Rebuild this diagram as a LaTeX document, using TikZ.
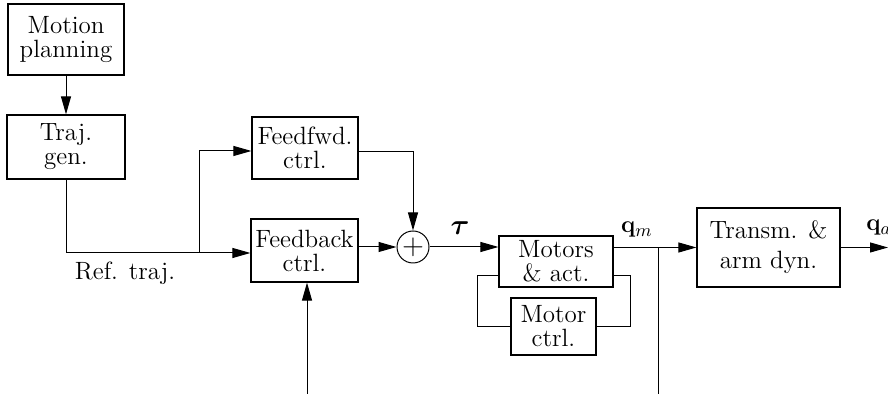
\documentclass[tikz,border=0pt]{standalone}
\usepackage{bm}
\usetikzlibrary{arrows.meta}
\begin{document}
\begin{tikzpicture}[x=0.5pt,y=-0.5pt,
  lbl/.style={font=\fontsize{12.5}{12}\selectfont, align=center, inner sep=0pt},
  box/.style={lbl, draw, line width=0.6pt},
  conn/.style={line width=0.5pt},
  arr/.style={conn, -{Triangle[length=9pt,width=5pt]}}]
\useasboundingbox (0,0) rectangle (888,394);
% blocks
\node[box, minimum width=58pt, minimum height=35.5pt] (motion) at (66,39.5) {Motion\\planning};
\node[box, minimum width=59pt, minimum height=32pt] (traj) at (66,147) {Traj.\\gen.};
\node[box, minimum width=53pt, minimum height=31pt] (ffwd) at (305,148) {Feedfwd.\\ctrl.};
\node[box, minimum width=53.5pt, minimum height=31.5pt] (fb) at (304.5,250.5) {Feedback\\ctrl.};
\node[draw, circle, line width=0.5pt, minimum size=16pt, inner sep=0pt, font=\fontsize{14}{14}\selectfont] (sum) at (413,247) {$+$};
\node[box, minimum width=57pt, minimum height=25.5pt] (motors) at (556,261.5) {Motors\\\& act.};
\node[box, minimum width=42.5pt, minimum height=28.5pt] (mctrl) at (553.5,326.5) {Motor\\ctrl.};
\node[box, font=\fontsize{12.5}{15}\selectfont, minimum width=71.5pt, minimum height=39.5pt] (transm) at (768.5,247.5) {Transm. \&\\arm dyn.};
% labels
\node[lbl] (ref) at (125,273) {Ref. traj.};
\node[lbl, font=\fontsize{14}{14}\selectfont] (tau) at (460,228) {$\bm{\tau}$};
\node[lbl] (qm) at (637,230) {$\mathbf{q}_m$};
\node[lbl, anchor=west] (qa) at (866,228) {$\mathbf{q}_a$};
% coordinates
\coordinate (j1) at (199,253);
\coordinate (j2) at (658,247.5);
\coordinate (b1) at (307,394);
\coordinate (b2) at (658,394);
\coordinate (l1) at (477,276);
\coordinate (r1) at (630,276);
\coordinate (out) at (888,247.5);
% connectors
\draw[arr] (motion.south) -- (motion.south |- traj.north);
\draw[conn] (traj.south) |- (j1);
\draw[arr] (j1) -- (j1 -| fb.west);
\draw[arr] (j1) |- (ffwd.west |- 0,151);
\draw[arr] (ffwd.east |- 0,152) -| (sum.north);
\draw[arr] (fb.east |- sum.west) -- (sum.west);
\draw[arr] (sum.east) -- (sum.east -| motors.west);
\draw[arr] (motors.east |- transm.west) -- (transm.west);
\draw[conn] (j2) -- (b2);
\draw[arr] (transm.east) -- (out);
\draw[arr] (b1) -- (b1 |- fb.south);
\draw[conn] (motors.west |- l1) -- (l1) |- (mctrl.west);
\draw[conn] (mctrl.east) -| (r1) -- (motors.east |- r1);
\end{tikzpicture}
\end{document}
